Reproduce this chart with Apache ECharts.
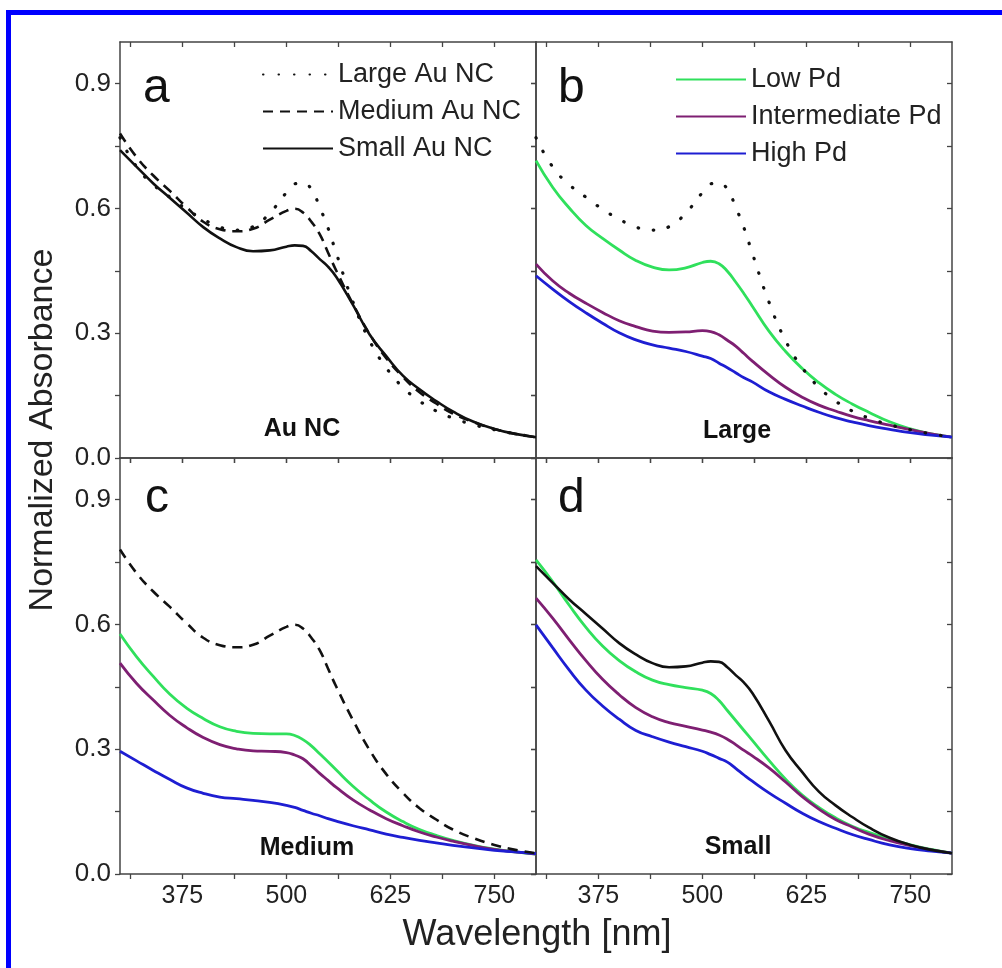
<!DOCTYPE html>
<html><head><meta charset="utf-8">
<script src="https://cdn.jsdelivr.net/npm/echarts@6/dist/echarts.min.js"></script>
<style>html,body{margin:0;padding:0;background:#fff}#c{width:1002px;height:968px}</style>
</head><body><div id="c"></div>
<script>
// ---- data ----
const wavelengths = [300,320,340,360,380,400,420,440,460,480,500,510,520,530,540,550,560,580,600,620,640,660,680,700,725,750,775,800];

const largeAu  = [0.77,0.70,0.657,0.627,0.598,0.574,0.555,0.548,0.556,0.589,0.638,0.659,0.661,0.646,0.603,0.553,0.492,0.375,0.282,0.217,0.17,0.137,0.113,0.096,0.08,0.068,0.058,0.05];
const mediumAu = [0.78,0.723,0.679,0.642,0.603,0.568,0.55,0.545,0.551,0.573,0.594,0.599,0.59,0.568,0.538,0.494,0.45,0.37,0.298,0.24,0.195,0.158,0.131,0.107,0.086,0.07,0.058,0.05];
const smallAu  = [0.74,0.70,0.66,0.625,0.59,0.555,0.528,0.507,0.497,0.499,0.508,0.511,0.51,0.497,0.478,0.46,0.435,0.368,0.297,0.245,0.198,0.165,0.137,0.112,0.087,0.07,0.058,0.05];

const largeLow  = [0.715,0.651,0.601,0.559,0.528,0.5,0.475,0.459,0.452,0.457,0.47,0.473,0.467,0.449,0.423,0.395,0.365,0.305,0.256,0.215,0.181,0.153,0.13,0.11,0.087,0.07,0.058,0.05];
const largeMid  = [0.466,0.426,0.396,0.372,0.35,0.33,0.316,0.305,0.302,0.303,0.306,0.304,0.296,0.283,0.269,0.251,0.233,0.2,0.17,0.146,0.127,0.113,0.1,0.09,0.079,0.068,0.058,0.05];
const largeHigh = [0.438,0.406,0.376,0.349,0.324,0.301,0.284,0.272,0.264,0.256,0.245,0.239,0.228,0.217,0.205,0.193,0.183,0.159,0.141,0.125,0.11,0.097,0.087,0.078,0.069,0.061,0.055,0.05];

const mediumLow  = [0.577,0.522,0.475,0.432,0.399,0.374,0.354,0.343,0.338,0.337,0.337,0.333,0.323,0.308,0.289,0.27,0.25,0.211,0.178,0.149,0.126,0.107,0.093,0.081,0.069,0.06,0.053,0.048];
const mediumMid  = [0.507,0.458,0.418,0.381,0.352,0.328,0.311,0.301,0.296,0.295,0.292,0.286,0.277,0.26,0.242,0.225,0.208,0.178,0.154,0.133,0.116,0.101,0.089,0.079,0.068,0.059,0.053,0.048];
const mediumHigh = [0.295,0.272,0.249,0.227,0.207,0.194,0.185,0.181,0.177,0.172,0.165,0.16,0.153,0.146,0.14,0.133,0.127,0.116,0.106,0.096,0.088,0.081,0.075,0.069,0.063,0.057,0.053,0.049];

const smallLow  = [0.755,0.703,0.646,0.593,0.548,0.513,0.486,0.466,0.455,0.448,0.442,0.434,0.417,0.393,0.369,0.345,0.321,0.273,0.228,0.19,0.16,0.135,0.115,0.1,0.084,0.07,0.059,0.05];
const smallMid  = [0.663,0.615,0.563,0.513,0.468,0.431,0.4,0.378,0.364,0.355,0.346,0.341,0.334,0.324,0.311,0.297,0.284,0.255,0.221,0.186,0.156,0.131,0.113,0.096,0.08,0.068,0.058,0.05];
const smallHigh = [0.599,0.544,0.49,0.442,0.404,0.372,0.345,0.33,0.317,0.306,0.295,0.287,0.278,0.269,0.254,0.238,0.223,0.195,0.17,0.146,0.126,0.11,0.095,0.083,0.07,0.061,0.055,0.05];

const xTickLabels = [375,500,625,750];
const xMinorTicks = [312.5,437.5,562.5,687.5];
const yTickLabels = [0,0.3,0.6,0.9];
const yMinorTicks = [0.15,0.45,0.75];

const auNames  = ['Large Au NC','Medium Au NC','Small Au NC'];
const pdNames  = ['Low Pd','Intermediate Pd','High Pd'];
const panelLetters = ['a','b','c','d'];
const panelTitles  = ['Au NC','Large','Medium','Small'];

// ---- styles ----
const FONT = '"Liberation Sans", Arial, Helvetica, sans-serif';
const FRAME = '#444';
const TXT = '#222';
const auStyles = {
  'Large Au NC':  {color:'#111', width:3.2, type:[0.5,15], cap:'round'},
  'Medium Au NC': {color:'#111', width:2.6, type:[10,7], cap:'butt'},
  'Small Au NC':  {color:'#111', width:2.6, type:'solid', cap:'butt'}
};
const pdColors = {'Low Pd':'#30e05c','Intermediate Pd':'#7e1f72','High Pd':'#1e1ed2'};

const grids = [
  {left:120, top:42,  width:416, height:416},
  {left:536, top:42,  width:416, height:416},
  {left:120, top:458, width:416, height:416},
  {left:536, top:458, width:416, height:416}
];

const xAxes = [], yAxes = [];
const allX = xTickLabels.concat(xMinorTicks).sort((a,b)=>a-b);
const allY = yTickLabels.concat(yMinorTicks).sort((a,b)=>a-b);
grids.forEach((g, gi) => {
  const base = (pos, inside, showLabel) => ({
    gridIndex: gi, type:'value', min:300, max:800, position:pos,
    axisLine:{show:true, onZero:false, lineStyle:{color:FRAME, width:1.5}},
    axisTick:{show:true, inside:inside, length:5, customValues:allX, lineStyle:{color:FRAME, width:1.3}},
    axisLabel:{show:showLabel, customValues:xTickLabels, fontSize:25, color:TXT, margin:10, fontFamily:FONT},
    splitLine:{show:false}
  });
  xAxes.push(base('bottom', false, gi >= 2));
  xAxes.push(base('top', true, false));
  const ybase = (pos, inside, showLabel) => ({
    gridIndex: gi, type:'value', min:0, max:1.0, position:pos,
    axisLine:{show:true, onZero:false, lineStyle:{color:FRAME, width:1.5}},
    axisTick:{show:true, inside:inside, length:5, customValues:allY, lineStyle:{color:FRAME, width:1.3}},
    axisLabel:{show:showLabel, customValues:yTickLabels, fontSize:26, color:TXT, margin:9, fontFamily:FONT,
               formatter: v => Number(v).toFixed(1)},
    splitLine:{show:false}
  });
  yAxes.push(ybase('left', false, gi % 2 === 0));
  yAxes.push(ybase('right', true, false));
});

function pairs(arr){ return wavelengths.map((w,i)=>[w, arr[i]]); }
const series = [];
function addAu(gi, name, arr){
  const s = auStyles[name];
  series.push({type:'line', name, xAxisIndex:2*gi, yAxisIndex:2*gi, data:pairs(arr),
    symbol:'none', smooth:0.5, z:3,
    lineStyle:{color:s.color, width:s.width, type:s.type, cap:s.cap},
    itemStyle:{color:s.color}});
}
function addPd(gi, name, arr){
  const c = pdColors[name];
  series.push({type:'line', name, xAxisIndex:2*gi, yAxisIndex:2*gi, data:pairs(arr),
    symbol:'none', smooth:0.5, z:2,
    lineStyle:{color:c, width:2.8}, itemStyle:{color:c}});
}
// panel a
addAu(0,'Large Au NC',largeAu); addAu(0,'Medium Au NC',mediumAu); addAu(0,'Small Au NC',smallAu);
// panel b
addPd(1,'Low Pd',largeLow); addPd(1,'Intermediate Pd',largeMid); addPd(1,'High Pd',largeHigh); addAu(1,'Large Au NC',largeAu);
// panel c
addPd(2,'Low Pd',mediumLow); addPd(2,'Intermediate Pd',mediumMid); addPd(2,'High Pd',mediumHigh); addAu(2,'Medium Au NC',mediumAu);
// panel d
addPd(3,'Low Pd',smallLow); addPd(3,'Intermediate Pd',smallMid); addPd(3,'High Pd',smallHigh); addAu(3,'Small Au NC',smallAu);

const legendCommon = {orient:'vertical', itemWidth:70, itemHeight:14, itemGap:10, itemTextGap:8, selectedMode:false,
  itemStyle:{opacity:0, color:'transparent', borderWidth:0},
  textStyle:{fontSize:27, color:TXT, fontFamily:FONT, lineHeight:27}};

const letterPos = [[143,89],[558,89],[145,499],[558,499]];
const titlePos  = [[302,429],[737,431],[307,848],[738,847]];
const graphics = [
  {type:'rect', shape:{x:6, y:10, width:5, height:958}, style:{fill:'#0000ff'}, silent:true},
  {type:'rect', shape:{x:6, y:10, width:996, height:5}, style:{fill:'#0000ff'}, silent:true},
  {type:'text', x:537, y:935, style:{text:'Wavelength [nm]', font:'36px '+FONT, fill:TXT, align:'center', verticalAlign:'middle'}},
  {type:'text', x:43, y:430, rotation:Math.PI/2, style:{text:'Normalized Absorbance', font:'34px '+FONT, fill:TXT, align:'center', verticalAlign:'middle'}}
];
panelLetters.forEach((l,i)=>graphics.push({type:'text', x:letterPos[i][0], y:letterPos[i][1],
  style:{text:l, font:'48px '+FONT, fill:'#111', align:'left', verticalAlign:'middle'}}));
panelTitles.forEach((t,i)=>graphics.push({type:'text', x:titlePos[i][0], y:titlePos[i][1],
  style:{text:t, font:'bold 25px '+FONT, fill:'#111', align:'center', verticalAlign:'middle'}}));

const chart = echarts.init(document.getElementById('c'), null, {renderer:'canvas'});
chart.setOption({
  animation:false,
  backgroundColor:'#fff',
  grid: grids,
  xAxis: xAxes,
  yAxis: yAxes,
  legend: [
    Object.assign({left:257, top:56, data:auNames}, legendCommon),
    Object.assign({left:670, top:61, data:pdNames}, legendCommon)
  ],
  series: series,
  graphic: graphics
});
</script></body></html>
